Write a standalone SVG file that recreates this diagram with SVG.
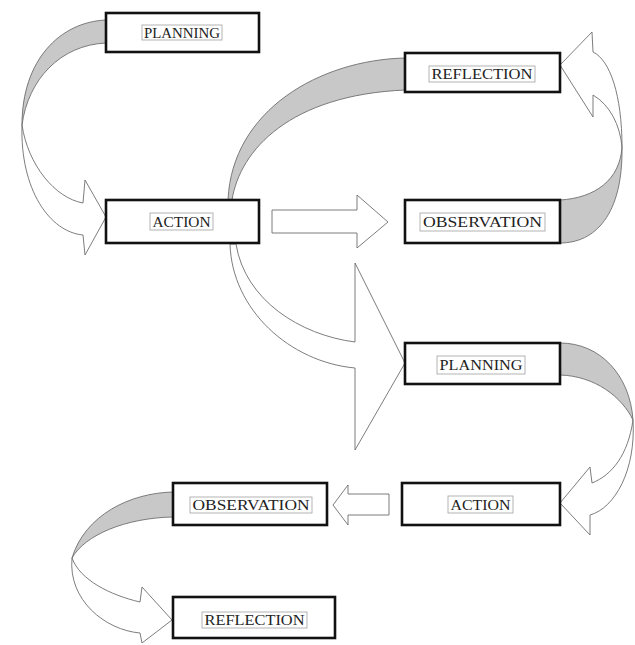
<svg xmlns="http://www.w3.org/2000/svg" width="635" height="645" viewBox="0 0 635 645">
<style>
.box{fill:#fff;stroke:#111;stroke-width:2.6}
.tf{fill:none;stroke:#a0a0a0;stroke-width:0.8}
.t{font-family:"Liberation Serif","Times New Roman",serif;font-size:15px;fill:#222;text-anchor:middle}
.g{fill:#c8c8c8;stroke:#6e6e6e;stroke-width:0.9}
.w{fill:#fff;stroke:#6e6e6e;stroke-width:0.9}
</style>
<rect width="635" height="645" fill="#fff"/>
<g id="connectors">
  <path class="g" d="M106,20 C60,22 22,60 22,125 C28,80 60,45 106,43 Z"/>
  <path class="w" d="M22,125 C20,190 50,232 83,235 L85,255 L106,217 L85,180 L83,203 C55,198 28,165 22,125 Z"/>
  <path class="w" d="M272,210 L357,210 L357,195 L388,222 L357,248 L357,233 L272,233 Z"/>
  <path class="g" d="M560,200 C595,198 620,180 622,147 C623,215 595,243 560,243 Z"/>
  <path class="w" d="M622,147 C622,95 610,60 593,52 L592,32 L560,65 L593,117 L593,95 C610,105 620,125 622,147 Z"/>
  <path class="g" d="M405,58 C320,60 232,110 228,200 L232,200 C240,150 290,95 405,90 Z"/>
  <path class="w" d="M230,244 C232,310 290,362 355,368 L355,450 L405,363 L355,263 L355,342 C300,335 245,300 236,244 Z"/>
  <path class="g" d="M560,343 C600,343 630,375 633,420 C622,397 595,376 560,375 Z"/>
  <path class="w" d="M633,420 C636,470 615,508 590,515 L590,535 L560,503 L590,467 L592,483 C612,475 628,455 633,420 Z"/>
  <path class="w" d="M389,494 L348,494 L348,485 L333,505 L348,525 L348,515 L389,515 Z"/>
  <path class="g" d="M173,492 C130,493 85,515 72,558 C85,535 125,518 173,517 Z"/>
  <path class="w" d="M72,558 C68,600 105,630 140,633 L142,643 L172,620 L142,587 L140,602 C110,595 80,580 72,558 Z"/>
</g>
<g id="planning1">
  <rect class="box" x="106" y="13" width="153" height="39"/>
  <rect class="tf" x="142" y="25" width="80" height="15"/>
  <text class="t" x="182" y="38" textLength="76" lengthAdjust="spacingAndGlyphs">PLANNING</text>
</g>
<g id="action1">
  <rect class="box" x="106" y="200" width="153" height="43"/>
  <rect class="tf" x="150" y="213" width="63" height="17"/>
  <text class="t" x="181.5" y="227" textLength="58" lengthAdjust="spacingAndGlyphs">ACTION</text>
</g>
<g id="reflection1">
  <rect class="box" x="405" y="53" width="155" height="39"/>
  <rect class="tf" x="429" y="66" width="106" height="16"/>
  <text class="t" x="482" y="79" textLength="101" lengthAdjust="spacingAndGlyphs">REFLECTION</text>
</g>
<g id="observation1">
  <rect class="box" x="405" y="200" width="155" height="43"/>
  <rect class="tf" x="420" y="213" width="125" height="18"/>
  <text class="t" x="482.5" y="227" textLength="119" lengthAdjust="spacingAndGlyphs">OBSERVATION</text>
</g>
<g id="planning2">
  <rect class="box" x="405" y="343" width="155" height="41"/>
  <rect class="tf" x="437" y="356" width="88" height="18"/>
  <text class="t" x="481" y="370" textLength="83" lengthAdjust="spacingAndGlyphs">PLANNING</text>
</g>
<g id="action2">
  <rect class="box" x="402" y="483" width="158" height="42"/>
  <rect class="tf" x="448" y="496" width="65" height="17"/>
  <text class="t" x="480.5" y="510" textLength="60" lengthAdjust="spacingAndGlyphs">ACTION</text>
</g>
<g id="observation2">
  <rect class="box" x="173" y="483" width="154" height="42"/>
  <rect class="tf" x="190" y="497" width="122" height="16"/>
  <text class="t" x="251" y="510" textLength="117" lengthAdjust="spacingAndGlyphs">OBSERVATION</text>
</g>
<g id="reflection2">
  <rect class="box" x="173" y="597" width="162" height="41"/>
  <rect class="tf" x="202" y="612" width="105" height="16"/>
  <text class="t" x="254.5" y="625" textLength="100" lengthAdjust="spacingAndGlyphs">REFLECTION</text>
</g>
</svg>
